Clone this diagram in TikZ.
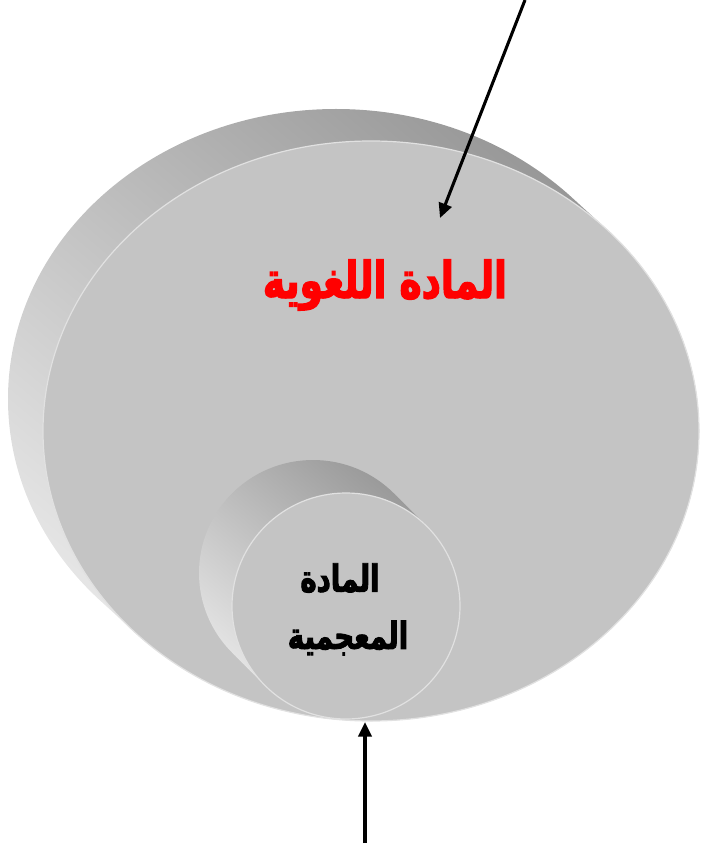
\documentclass[tikz,border=0pt]{standalone}
\usepackage{fontspec}
\TeXXeTstate=1
\newfontfamily\arabicheavy[Script=Arabic, FakeBold=2.5, FakeStretch=0.74]{DejaVu Sans}
\usetikzlibrary{arrows.meta}
\begin{document}
\begin{tikzpicture}[x=0.75pt,y=-0.75pt]
\definecolor{face}{RGB}{196,196,196}
\definecolor{sidelight}{RGB}{232,232,232}
\definecolor{sidedark}{RGB}{150,150,150}
\definecolor{rimline}{RGB}{225,225,225}
\tikzset{
  sideshade/.style={top color=sidedark, bottom color=sidelight, shading angle=-40},
  facefill/.style={fill=face, draw=rimline, line width=0.9pt},
  redlabel/.style={text=red, font=\arabicheavy\bfseries\fontsize{38}{40}\selectfont, inner sep=0pt},
  blacklabel/.style={text=black, font=\arabicheavy\bfseries\fontsize{28}{30}\selectfont, inner sep=0pt},
  pointer/.style={line width=2.3pt, -{Triangle[length=11pt,width=10pt]}}
}
\useasboundingbox (0,0) rectangle (700,848);
% big disc: side then face
\shade[sideshade] foreach \i in {0,...,40} { (371-35*\i/40, 431-32*\i/40) ellipse [x radius=328, y radius=290] };
\path[facefill] (371,431) ellipse [x radius=328, y radius=290];
% small disc: side then face
\shade[sideshade] foreach \i in {0,...,40} { (346-33*\i/40, 606-33*\i/40) ellipse [x radius=114, y radius=113] };
\path[facefill] (346,606) ellipse [x radius=114, y radius=113];
% labels
\node[redlabel] (lang) at (385,285) {\beginR المادة اللغوية\endR};
\node[blacklabel] (lex1) at (340,578) {\beginR المادة\endR};
\node[blacklabel] (lex2) at (348,638) {\beginR المعجمية\endR};
% arrows
\coordinate (topstart) at (525,0);
\coordinate (toptip) at (440,218);
\coordinate (botstart) at (365,843);
\coordinate (bottip) at (365,722);
\draw[pointer] (topstart) -- (toptip);
\draw[pointer] (botstart) -- (bottip);
\end{tikzpicture}
\end{document}
